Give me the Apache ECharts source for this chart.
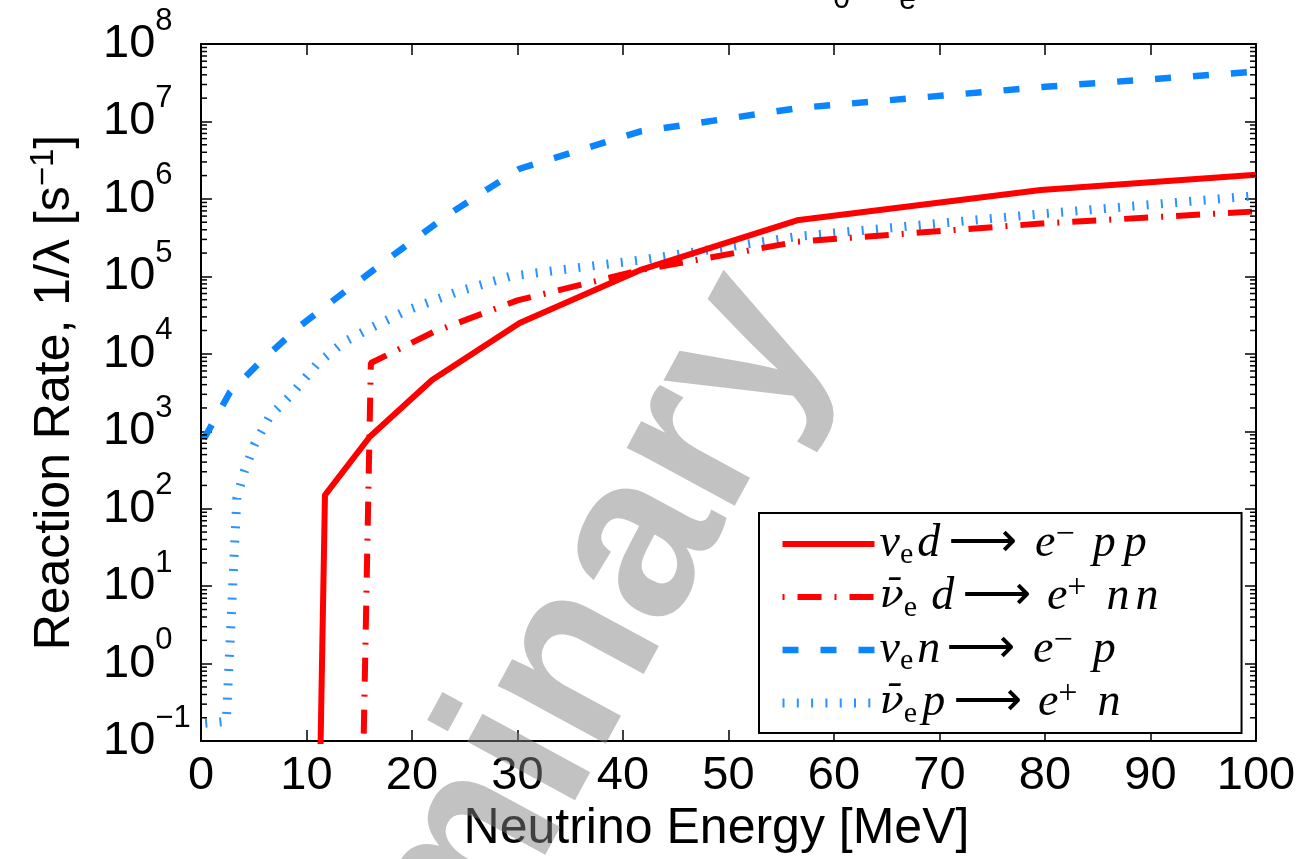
<!DOCTYPE html>
<html>
<head>
<meta charset="utf-8">
<script src="https://cdn.jsdelivr.net/npm/echarts@6/dist/echarts.min.js"></script>
<style>
  html, body { margin: 0; padding: 0; background: #fff; }
  #chart { width: 1303px; height: 859px; }
</style>
</head>
<body>
<div id="chart"></div>
<script>
// Reaction rates (1/s) versus neutrino energy (MeV) for each channel
const energyNueD = [11.3, 11.75, 16.0, 21.9, 30.2, 41.6, 56.5, 79.6, 100];
const rateNueD   = [0.05, 150, 850, 4600, 25000, 120000, 530000, 1300000, 2050000];

const energyNuebarD = [15.4, 16.1, 22.0, 30.0, 41.6, 56.5, 79.6, 100];
const rateNuebarD   = [0.08, 7600, 19000, 49000, 120000, 280000, 480000, 690000];

const energyNueN = [0.28, 2.75, 5.6, 9.4, 14.1, 18.9, 23.6, 30.2, 41.6, 56.8, 80, 100];
const rateNueN   = [800, 3200, 7800, 23000, 71000, 220000, 650000, 2450000, 7400000, 15000000, 28000000, 44000000];

const energyNuebarP = [0.4, 2.4, 3.4, 4.1, 5.1, 6.5, 8.6, 11.0, 13.5, 16.2, 19.5, 24.5, 29.3, 35.6, 41.6, 56.8, 80, 100];
const rateNuebarP   = [0.17, 0.18, 138, 302, 692, 1550, 3020, 7400, 14100, 21900, 36300, 64600, 100000, 129000, 162000, 331000, 646000, 1100000];

// Axis ranges and tick labels
const xTickStep = 10;
const decadeExponents = [-1, 0, 1, 2, 3, 4, 5, 6, 7, 8];
const minorMultipliers = [2, 3, 4, 5, 6, 7, 8, 9];

// Math-style legend labels (rich text)
const legendLabels = {
  'nue d':    '{m|ν}{sb|e}{g4| }{m|d}{g8| }{ar|⟶}{g18| }{m|e}{sp|−}{g18| }{m|p}{g8| }{m|p}',
  'nuebar d': '{mb|ν̄}{sb|e}{g14| }{m|d}{g8| }{ar|⟶}{g16| }{m|e}{sp|+}{g20| }{m|n}{g6| }{m|n}',
  'nue n':    '{m|ν}{sb|e}{g4| }{m|n}{g6| }{ar|⟶}{g18| }{m|e}{sp|−}{g20| }{m|p}',
  'nuebar p': '{mb|ν̄}{sb|e}{g5| }{m|p}{g8| }{ar|⟶}{g16| }{m|e}{sp|+}{g20| }{m|n}'
};

const SANS = 'Liberation Sans, Arial, Helvetica, sans-serif';
const SERIF = 'Liberation Serif, Times New Roman, serif';

const zip = (xs, ys) => xs.map((x, i) => [x, ys[i]]);

const minorTickValues = [];
decadeExponents.slice(0, -1).forEach(k => {
  minorMultipliers.forEach(m => minorTickValues.push(m * Math.pow(10, k)));
});

const ymin = Math.pow(10, decadeExponents[0]);
const ymax = Math.pow(10, decadeExponents[decadeExponents.length - 1]);

const frameLine = { show: true, onZero: false, lineStyle: { color: '#000', width: 2 } };
const majorTick = { show: true, inside: true, length: 11, lineStyle: { color: '#000', width: 1.5 } };

const chart = echarts.init(document.getElementById('chart'), null, { renderer: 'canvas' });

chart.setOption({
  animation: false,
  backgroundColor: '#fff',
  grid: { left: 201, right: 47, top: 44, bottom: 112, containLabel: false },
  xAxis: [
    {
      type: 'value', min: 0, max: 100, interval: xTickStep, position: 'bottom',
      axisLine: frameLine, axisTick: majorTick, splitLine: { show: false },
      axisLabel: { fontFamily: SANS, fontSize: 47, color: '#000', margin: 11, showMinLabel: true, showMaxLabel: true },
      name: 'Neutrino Energy [MeV]', nameLocation: 'middle', nameGap: 58,
      nameTextStyle: { fontFamily: SANS, fontSize: 50, color: '#000', padding: [0, 24, 0, 0] }
    },
    {
      type: 'value', min: 0, max: 100, interval: xTickStep, position: 'top',
      axisLine: frameLine, axisTick: majorTick, splitLine: { show: false },
      axisLabel: { show: false }
    }
  ],
  yAxis: [
    {
      type: 'log', logBase: 10, min: ymin, max: ymax, splitNumber: decadeExponents.length - 1,
      position: 'left',
      axisLine: frameLine, axisTick: majorTick, splitLine: { show: false },
      axisLabel: {
        align: 'left', margin: 98, showMinLabel: true, showMaxLabel: true,
        formatter: v => {
          const k = Math.round(Math.log10(v));
          return '{b|10}{s|' + (k < 0 ? '−' + (-k) : k) + '}';
        },
        rich: {
          b: { fontFamily: SANS, fontSize: 47, lineHeight: 77, color: '#000' },
          s: { fontFamily: SANS, fontSize: 31, lineHeight: 31, verticalAlign: 'top', color: '#000' }
        }
      },
      name: '{n|Reaction Rate, 1/λ [s}{s|−1}{n|]}',
      nameLocation: 'middle', nameRotate: 90, nameGap: 118,
      nameTextStyle: {
        fontFamily: SANS, fontSize: 50, color: '#000',
        rich: {
          n: { fontFamily: SANS, fontSize: 50, lineHeight: 56, color: '#000' },
          s: { fontFamily: SANS, fontSize: 33, lineHeight: 33, verticalAlign: 'top', color: '#000' }
        }
      }
    },
    {
      type: 'log', logBase: 10, min: ymin, max: ymax, splitNumber: decadeExponents.length - 1,
      position: 'right',
      axisLine: frameLine, axisTick: majorTick, splitLine: { show: false },
      axisLabel: { show: false }
    }
  ],
  legend: {
    orient: 'vertical', left: 759, top: 513,
    padding: [5, 83, 4, 19], itemGap: 1, itemWidth: 92, itemHeight: 14, itemTextGap: 8,
    borderColor: '#000', borderWidth: 2, borderRadius: 0, backgroundColor: '#fff',
    selectedMode: false,
    itemStyle: { opacity: 0, borderWidth: 0 },
    data: [
      { name: 'nue d', lineStyle: { width: 6 } },
      { name: 'nuebar d', lineStyle: { width: 6 } },
      { name: 'nue n', lineStyle: { width: 6.5 } },
      { name: 'nuebar p', lineStyle: { width: 9 } }
    ],
    formatter: n => legendLabels[n],
    textStyle: {
      color: '#000',
      rich: {
        m: { fontFamily: SERIF, fontStyle: 'italic', fontSize: 46, lineHeight: 52, color: '#000' },
        mb: { fontFamily: 'DejaVu Serif, serif', fontStyle: 'italic', fontSize: 40, lineHeight: 52, color: '#000' },
        sb: { fontFamily: SERIF, fontSize: 30, lineHeight: 30, verticalAlign: 'bottom', color: '#000' },
        sp: { fontFamily: SERIF, fontSize: 34, lineHeight: 34, verticalAlign: 'top', color: '#000' },
        ar: { fontFamily: 'DejaVu Sans, sans-serif', fontSize: 48, lineHeight: 52, color: '#000' },
        g3: { width: 3 }, g4: { width: 4 }, g5: { width: 5 }, g6: { width: 6 }, g8: { width: 8 },
        g14: { width: 14 }, g16: { width: 16 }, g18: { width: 18 }, g20: { width: 20 }
      }
    }
  },
  series: [
    {
      type: 'custom', name: 'minor ticks', silent: true, z: 6, clip: false,
      xAxisIndex: 0, yAxisIndex: 0,
      data: minorTickValues.map(v => [0, v]),
      renderItem: (params, api) => {
        const cs = params.coordSys;
        const y = api.coord([0, api.value(1)])[1];
        const st = { stroke: '#000', lineWidth: 1.5 };
        return {
          type: 'group', children: [
            { type: 'line', shape: { x1: cs.x, y1: y, x2: cs.x + 6, y2: y }, style: st },
            { type: 'line', shape: { x1: cs.x + cs.width - 6, y1: y, x2: cs.x + cs.width, y2: y }, style: st }
          ]
        };
      }
    },
    {
      name: 'nuebar p', type: 'line', data: zip(energyNuebarP, rateNuebarP),
      symbol: 'none', showSymbol: false, z: 2,
      lineStyle: { color: '#2b93ff', width: 9, type: [2, 12.3], cap: 'butt' },
      itemStyle: { color: '#2b93ff' }
    },
    {
      name: 'nue n', type: 'line', data: zip(energyNueN, rateNueN),
      symbol: 'none', showSymbol: false, z: 3,
      lineStyle: { color: '#0a84ff', width: 6.5, type: [16, 22], cap: 'butt' },
      itemStyle: { color: '#0a84ff' }
    },
    {
      name: 'nuebar d', type: 'line', data: zip(energyNuebarD, rateNuebarD),
      symbol: 'none', showSymbol: false, z: 4,
      lineStyle: { color: '#ff0000', width: 6, type: [2, 13, 24, 13], cap: 'butt' },
      itemStyle: { color: '#ff0000' }
    },
    {
      name: 'nue d', type: 'line', data: zip(energyNueD, rateNueD),
      symbol: 'none', showSymbol: false, z: 5,
      lineStyle: { color: '#ff0000', width: 6 },
      itemStyle: { color: '#ff0000' }
    }
  ],
  graphic: [
    // subscripts of the heading line that sits above the frame
    { type: 'text', x: 841.5, y: 15, z: 50, silent: true,
      style: { text: '0', fontFamily: SANS, fontSize: 30, fill: '#000', align: 'center', verticalAlign: 'bottom' } },
    { type: 'text', x: 907.5, y: 16, z: 50, silent: true,
      style: { text: 'e', fontFamily: SANS, fontSize: 30, fill: '#000', align: 'center', verticalAlign: 'bottom' } },
    // watermark
    { type: 'text', x: 474, y: 852, rotation: 61.5 * Math.PI / 180, z: 100, silent: true,
      style: { text: 'Preliminary', fontFamily: SANS, fontWeight: 'bold', fontSize: 232,
               fill: 'rgba(130,130,130,0.49)', align: 'center', verticalAlign: 'middle' } }
  ]
});
</script>
</body>
</html>
